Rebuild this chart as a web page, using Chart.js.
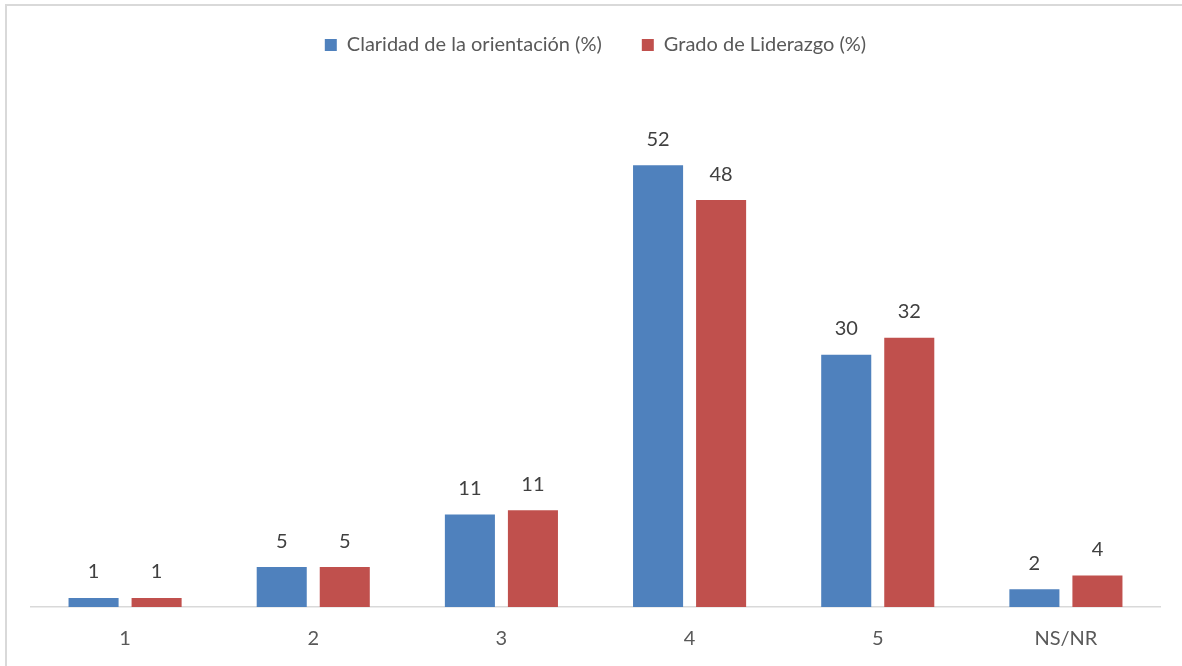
<!DOCTYPE html>
<html>
<head>
<meta charset="utf-8">
<script src="https://cdn.jsdelivr.net/npm/chart.js@4"></script>
<style>
  body { margin: 0; background: #fff; }
  .frame { position: absolute; left: 5px; top: 4px; width: 1200px; height: 700px; border: 2px solid #d9d9d9; }
  .wrap { position: absolute; left: 0; top: 0; width: 1182px; height: 666px; }
</style>
</head>
<body>
<div class="frame"></div>
<div class="wrap"><canvas id="chart"></canvas></div>
<script>
var categories = ['1', '2', '3', '4', '5', 'NS/NR'];
var claridad = [1.06, 4.7, 10.9, 52, 29.7, 2.1];
var liderazgo = [1.06, 4.7, 11.4, 47.9, 31.7, 3.7];

var labelPlugin = {
    id: 'barLabels',
    afterDatasetsDraw: function (chart) {
        var ctx = chart.ctx;
        ctx.save();
        ctx.font = '20px Lato, "Open Sans", sans-serif';
        ctx.fillStyle = '#404040';
        ctx.textAlign = 'center';
        ctx.textBaseline = 'bottom';
        chart.data.datasets.forEach(function (ds, i) {
            chart.getDatasetMeta(i).data.forEach(function (bar, j) {
                ctx.fillText(Math.round(ds.data[j]), bar.x, bar.y - 16);
            });
        });
        ctx.restore();
    }
};

var ctx = document.getElementById('chart').getContext('2d');
new Chart(ctx, {
    type: 'bar',
    data: {
        labels: categories,
        datasets: [{
            label: 'Claridad de la orientación (%)',
            data: claridad,
            backgroundColor: '#4f81bd'
        }, {
            label: 'Grado de Liderazgo (%)',
            data: liderazgo,
            backgroundColor: '#c0504d'
        }]
    },
    options: {
        responsive: true,
        maintainAspectRatio: false,
        animation: false,
        categoryPercentage: 0.67,
        barPercentage: 0.794,
        layout: { padding: { left: 31, right: 22, top: -5, bottom: 3 } },
        plugins: {
            legend: {
                position: 'top',
                labels: {
                    boxWidth: 12,
                    boxHeight: 12,
                    padding: 40,
                    color: '#595959',
                    font: { family: 'Lato, "Open Sans", sans-serif', size: 20 }
                }
            },
            tooltip: { enabled: false }
        },
        scales: {
            x: {
                grid: { display: false },
                border: { color: '#d9d9d9', width: 1.5 },
                ticks: {
                    color: '#595959',
                    padding: 12,
                    font: { family: 'Lato, "Open Sans", sans-serif', size: 20 }
                }
            },
            y: {
                display: false,
                min: 0,
                max: 63.8
            }
        }
    },
    plugins: [labelPlugin]
});
</script>
</body>
</html>
